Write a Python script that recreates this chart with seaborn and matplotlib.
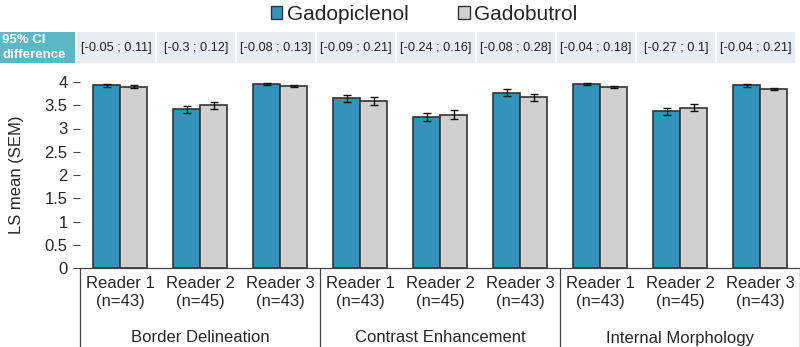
import seaborn as sns
import matplotlib.pyplot as plt
import matplotlib.patches as mpatches
import pandas as pd
import numpy as np

# Data
domains = ['Border Delineation', 'Contrast Enhancement', 'Internal Morphology']
readers = ['Reader 1\n(n=43)', 'Reader 2\n(n=45)', 'Reader 3\n(n=43)']
agents = ['Gadopiclenol', 'Gadobutrol']

gadopiclenol = [3.93, 3.41, 3.95, 3.65, 3.25, 3.77, 3.96, 3.37, 3.93]
gadobutrol = [3.90, 3.50, 3.92, 3.59, 3.30, 3.67, 3.90, 3.45, 3.85]
sem_gadopiclenol = [0.03, 0.08, 0.02, 0.08, 0.08, 0.07, 0.02, 0.07, 0.03]
sem_gadobutrol = [0.03, 0.08, 0.02, 0.08, 0.09, 0.07, 0.02, 0.07, 0.03]
ci_labels = ['[-0.05 ; 0.11]', '[-0.3 ; 0.12]', '[-0.08 ; 0.13]',
             '[-0.09 ; 0.21]', '[-0.24 ; 0.16]', '[-0.08 ; 0.28]',
             '[-0.04 ; 0.18]', '[-0.27 ; 0.1]', '[-0.04 ; 0.21]']

colors = {'Gadopiclenol': '#3194bb', 'Gadobutrol': '#d1d0d1'}

sns.set_style('white')
plt.rcParams['font.family'] = ['Liberation Sans', 'DejaVu Sans']

# Build long table
keys = [f'{d}|{r}' for d in domains for r in readers]
df = pd.DataFrame({
    'key': keys * 2,
    'agent': np.repeat(agents, len(keys)),
    'value': gadopiclenol + gadobutrol,
    'sem': sem_gadopiclenol + sem_gadobutrol,
})

fig = plt.figure(figsize=(8, 3.47), dpi=100)
W, H = 800, 347
ax = fig.add_axes([80 / W, (H - 268) / H, 720 / W, (268 - 82) / H])

sns.barplot(data=df, x='key', y='value', hue='agent', order=keys,
            hue_order=agents, palette=colors, saturation=1, width=0.675,
            errorbar=None, edgecolor='#333333', linewidth=1.2, ax=ax,
            legend=False)

# Error bars at bar centres
for bars, (name, grp) in zip(ax.containers, df.groupby('agent', sort=False)):
    xs = [b.get_x() + b.get_width() / 2 for b in bars]
    ax.errorbar(xs, grp['value'], yerr=grp['sem'], fmt='none',
                ecolor='#111111', elinewidth=1, capsize=3, capthick=1,
                clip_on=False)

ax.set_xlim(-0.5, 8.5)
ax.set_ylim(0, 4)
ax.set_yticks(np.arange(0, 4.01, 0.5))
ax.set_yticklabels(['0', '0.5', '1', '1.5', '2', '2.5', '3', '3.5', '4'],
                   fontsize=12)
ax.tick_params(axis='y', length=5, width=0.8, color='#444444', left=True, pad=4)
ax.set_ylabel('LS mean (SEM)', fontsize=12)
ax.yaxis.set_label_coords(-0.078, 0.5)
ax.set_xlabel('')
ax.set_xticks(range(9))
ax.set_xticklabels(readers * 3, fontsize=12, linespacing=1.25)
ax.tick_params(axis='x', length=0, pad=6)
for s in ['top', 'right', 'left']:
    ax.spines[s].set_visible(False)
ax.spines['bottom'].set_color('#444444')
ax.spines['bottom'].set_linewidth(0.9)

# Group separators and domain labels
for xb in [-0.5, 2.5, 5.5, 8.5]:
    ax.plot([xb, xb], [0, -79 / 186 * 4], color='#444444', lw=0.9,
            clip_on=False)
for i, d in enumerate(domains):
    ax.text(3 * i + 1, -70 / 186 * 4, d, ha='center', va='center',
            fontsize=12)

# CI table on top
tab = fig.add_axes([80 / W, (H - 63) / H, 720 / W, 31 / H])
tab.set_xlim(-0.5, 8.5)
tab.set_ylim(0, 1)
tab.axis('off')
for i, lab in enumerate(ci_labels):
    tab.add_patch(mpatches.Rectangle((i - 0.54, 0), 0.975, 1,
                                     facecolor='#e8edf4', edgecolor='none',
                                     clip_on=False))
    tab.text(i - 0.05, 0.5, lab, ha='center', va='center', fontsize=9.2,
             color='#222222')
tab.add_patch(mpatches.Rectangle((-1.5, 0), 0.94, 1, facecolor='#5bb8c4',
                                 edgecolor='none', clip_on=False))
tab.text(-1.47, 0.5, '95% CI\ndifference', ha='left', va='center',
         fontsize=9.5, color='white', fontweight='bold', linespacing=1.3)

# Legend
handles = [mpatches.Patch(facecolor=colors[a], edgecolor='#333333',
                          linewidth=1, label=a) for a in agents]
fig.legend(handles=handles, loc='upper center', bbox_to_anchor=(0.53, 1.04),
           ncol=2, frameon=False, fontsize=15, handlelength=0.55,
           handleheight=0.55, handletextpad=0.2, columnspacing=2.4)

fig.savefig('out.png', dpi=100)
